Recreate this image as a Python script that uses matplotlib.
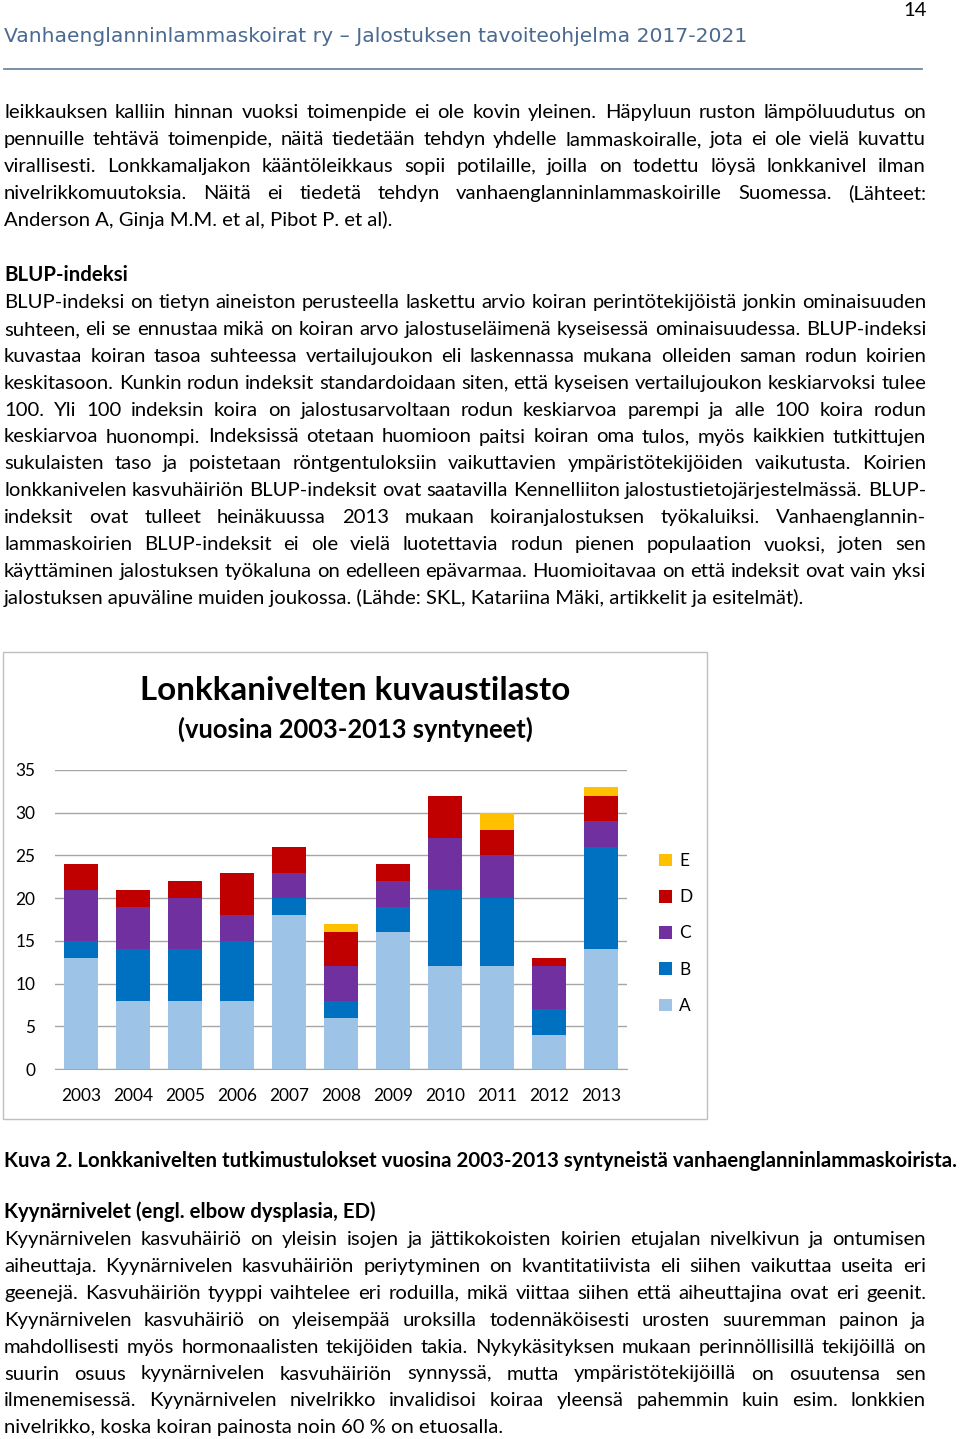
"""
Lonkkanivelten kuvaustilasto - sivu 14 jalostuksen tavoiteohjelmasta.
Sivun teksti + pinottu pylväskaavio matplotlibilla.
"""

import numpy as np
import matplotlib
matplotlib.use("Agg")
import matplotlib.pyplot as plt
from matplotlib.patches import Rectangle, Patch
from matplotlib.lines import Line2D

# ---------------------------------------------------------
# 1. Data
# ---------------------------------------------------------
years = ["2003", "2004", "2005", "2006", "2007", "2008", "2009", "2010", "2011", "2012", "2013"]
grade_a = [13, 8, 8, 8, 18, 6, 16, 12, 12, 4, 14]
grade_b = [2, 6, 6, 7, 2, 2, 3, 9, 8, 3, 12]
grade_c = [6, 5, 6, 3, 3, 4, 3, 6, 5, 5, 3]
grade_d = [3, 2, 2, 5, 3, 4, 2, 5, 3, 1, 3]
grade_e = [0, 0, 0, 0, 0, 1, 0, 0, 2, 0, 1]
grade_labels = ["A", "B", "C", "D", "E"]
y_ticks = [0, 5, 10, 15, 20, 25, 30, 35]

header = "Vanhaenglanninlammaskoirat ry \u2013 Jalostuksen tavoiteohjelma 2017-2021"
page_no = "14"

para1 = [
    "leikkauksen kalliin hinnan vuoksi toimenpide ei ole kovin yleinen. Häpyluun ruston lämpöluudutus on",
    "pennuille tehtävä toimenpide, näitä tiedetään tehdyn yhdelle lammaskoiralle, jota ei ole vielä kuvattu",
    "virallisesti. Lonkkamaljakon kääntöleikkaus sopii potilaille, joilla on todettu löysä lonkkanivel ilman",
    "nivelrikkomuutoksia. Näitä ei tiedetä tehdyn vanhaenglanninlammaskoirille Suomessa. (Lähteet:",
    "Anderson A, Ginja M.M. et al, Pibot P. et al).",
]
blup_head = "BLUP-indeksi"
blup = [
    "BLUP-indeksi on tietyn aineiston perusteella laskettu arvio koiran perintötekijöistä jonkin ominaisuuden",
    "suhteen, eli se ennustaa mikä on koiran arvo jalostuseläimenä kyseisessä ominaisuudessa. BLUP-indeksi",
    "kuvastaa koiran tasoa suhteessa vertailujoukon eli laskennassa mukana olleiden saman rodun koirien",
    "keskitasoon. Kunkin rodun indeksit standardoidaan siten, että kyseisen vertailujoukon keskiarvoksi tulee",
    "100. Yli 100 indeksin koira on jalostusarvoltaan rodun keskiarvoa parempi ja alle 100 koira rodun",
    "keskiarvoa huonompi. Indeksissä otetaan huomioon paitsi koiran oma tulos, myös kaikkien tutkittujen",
    "sukulaisten taso ja poistetaan röntgentuloksiin vaikuttavien ympäristötekijöiden vaikutusta. Koirien",
    "lonkkanivelen kasvuhäiriön BLUP-indeksit ovat saatavilla Kennelliiton jalostustietojärjestelmässä. BLUP-",
    "indeksit ovat tulleet heinäkuussa 2013 mukaan koiranjalostuksen työkaluiksi. Vanhaenglannin-",
    "lammaskoirien BLUP-indeksit ei ole vielä luotettavia rodun pienen populaation vuoksi, joten sen",
    "käyttäminen jalostuksen työkaluna on edelleen epävarmaa. Huomioitavaa on että indeksit ovat vain yksi",
    "jalostuksen apuväline muiden joukossa. (Lähde: SKL, Katariina Mäki, artikkelit ja esitelmät).",
]
chart_title = "Lonkkanivelten kuvaustilasto"
chart_sub = "(vuosina 2003-2013 syntyneet)"
caption = "Kuva 2. Lonkkanivelten tutkimustulokset vuosina 2003-2013 syntyneistä vanhaenglanninlammaskoirista."
ed_head = "Kyynärnivelet (engl. elbow dysplasia, ED)"
ed = [
    "Kyynärnivelen kasvuhäiriö on yleisin isojen ja jättikokoisten koirien etujalan nivelkivun ja ontumisen",
    "aiheuttaja. Kyynärnivelen kasvuhäiriön periytyminen on kvantitatiivista eli siihen vaikuttaa useita eri",
    "geenejä. Kasvuhäiriön tyyppi vaihtelee eri roduilla, mikä viittaa siihen että aiheuttajina ovat eri geenit.",
    "Kyynärnivelen kasvuhäiriö on yleisempää uroksilla todennäköisesti urosten suuremman painon ja",
    "mahdollisesti myös hormonaalisten tekijöiden takia. Nykykäsityksen mukaan perinnöllisillä tekijöillä on",
    "suurin osuus kyynärnivelen kasvuhäiriön synnyssä, mutta ympäristötekijöillä on osuutensa sen",
    "ilmenemisessä. Kyynärnivelen nivelrikko invalidisoi koiraa yleensä pahemmin kuin esim. lonkkien",
    "nivelrikko, koska koiran painosta noin 60 % on etuosalla.",
]

# ---------------------------------------------------------
# 2. Page setup
# ---------------------------------------------------------
W, H = 960, 1439
BODY = "Lato"
HEAD = "DejaVu Sans"
INK = "#000000"
HEAD_BLUE = "#4A6A90"
COLORS = ["#9DC3E6", "#0070C0", "#7030A0", "#C00000", "#FFC000"]

fig = plt.figure(figsize=(9.6, 14.39), dpi=100, facecolor="white")
renderer = fig.canvas.get_renderer()


def fx(x):
    return x / W


def fy(y):
    return 1 - y / H


def text_width(s, family, weight, size):
    t = fig.text(0, 0, s, fontsize=size, family=family, weight=weight)
    w = t.get_window_extent(renderer).width
    t.remove()
    return w


def fit_size(s, family, weight, target_px):
    return 10 * target_px / text_width(s, family, weight, 10)


body_fs = fit_size(ed[-1], BODY, "normal", 501)
bold_fs = fit_size(caption, BODY, "bold", 953)
LEFT, RIGHT = 4, 926


def put_line(s, y, justify=True, weight="normal", size=None):
    size = size or body_fs
    base = fy(y + 7)
    if not justify:
        fig.text(fx(LEFT), base, s, fontsize=size, family=BODY, weight=weight,
                 color=INK, va="baseline", ha="left")
        return
    words = s.split(" ")
    arts = [fig.text(0, base, w, fontsize=size, family=BODY, weight=weight,
                     color=INK, va="baseline", ha="left") for w in words]
    widths = [a.get_window_extent(renderer).width for a in arts]
    gap = (RIGHT - LEFT - sum(widths)) / (len(words) - 1)
    x = LEFT
    for a, w in zip(arts, widths):
        a.set_x(fx(x))
        x += w + gap


def put_paragraph(lines, y0, step=26.9):
    for i, s in enumerate(lines):
        put_line(s, y0 + i * step, justify=(i < len(lines) - 1))


# --- header ---
hdr_fs = fit_size(header, HEAD, "normal", 740)
fig.text(fx(4), fy(42), header, fontsize=hdr_fs, family=HEAD, color=HEAD_BLUE,
         va="baseline", ha="left")
fig.text(fx(927), fy(16), page_no, fontsize=body_fs, family=BODY, color=INK,
         va="baseline", ha="right")
fig.add_artist(Line2D([fx(4), fx(922)], [fy(69), fy(69)], color="#7088A4", lw=1.3))

# --- body text ---
put_paragraph(para1, 111)
put_line(blup_head, 274, justify=False, weight="bold", size=bold_fs)
put_paragraph(blup, 301)

# ---------------------------------------------------------
# 3. Chart
# ---------------------------------------------------------
fig.add_artist(Rectangle((fx(3), fy(1119)), (707 - 3) / W, (1119 - 652) / H,
                         transform=fig.transFigure, fill=False, ec="#BFBFBF", lw=1))

title_fs = fit_size(chart_title, BODY, "bold", 431)
sub_fs = fit_size(chart_sub, BODY, "bold", 356)
fig.text(fx(355), fy(690), chart_title, fontsize=title_fs, family=BODY, weight="bold",
         color=INK, ha="center", va="center")
fig.text(fx(355), fy(729), chart_sub, fontsize=sub_fs, family=BODY, weight="bold",
         color=INK, ha="center", va="center")

tick_fs = fit_size("2003", BODY, "normal", 40)
ax = fig.add_axes([fx(55), fy(1069), (627 - 55) / W, (1069 - 770) / H])
x = np.arange(len(years))
bottom = np.zeros(len(years))
handles = []
for vals, col, lab in zip([grade_a, grade_b, grade_c, grade_d, grade_e], COLORS, grade_labels):
    ax.bar(x, vals, 0.65, bottom=bottom, color=col, linewidth=0, zorder=3)
    bottom += np.array(vals)
    handles.append(Patch(facecolor=col, label=lab))

ax.set_xlim(-0.5, len(years) - 0.5)
ax.set_ylim(0, 35)
ax.set_yticks(y_ticks)
ax.set_xticks(x)
ax.set_xticklabels(years)
ax.grid(axis="y", color="#A6A6A6", lw=1, zorder=0)
ax.set_axisbelow(True)
for side in ["top", "right", "left"]:
    ax.spines[side].set_visible(False)
ax.spines["bottom"].set_color("#A6A6A6")
ax.tick_params(axis="y", length=0, pad=14, labelsize=tick_fs, labelcolor=INK)
ax.tick_params(axis="x", length=0, pad=14, labelsize=tick_fs, labelcolor=INK)
for lab in ax.get_xticklabels() + ax.get_yticklabels():
    lab.set_family(BODY)

leg = fig.legend(handles=handles[::-1], loc="center left",
                 bbox_to_anchor=(fx(659), fy(933.5)), frameon=False,
                 prop={"family": BODY, "size": tick_fs},
                 handlelength=0.75, handleheight=0.75, handletextpad=0.4,
                 labelspacing=1.17, borderpad=0, borderaxespad=0)

# ---------------------------------------------------------
# 4. Caption + ED section
# ---------------------------------------------------------
put_line(caption, 1160, justify=False, weight="bold", size=bold_fs)
put_line(ed_head, 1211, justify=False, weight="bold", size=bold_fs)
put_paragraph(ed, 1238, step=26.9)

fig.savefig("out.png", dpi=100, facecolor="white")
